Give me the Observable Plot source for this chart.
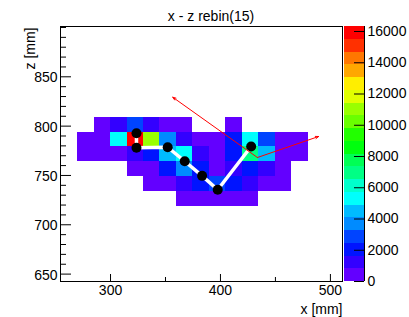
<!DOCTYPE html>
<html><head><meta charset="utf-8">
<script src="https://cdn.jsdelivr.net/npm/d3@7"></script>
<script src="https://cdn.jsdelivr.net/npm/@observablehq/plot@0.6"></script>
<style>
body{margin:0;background:#fff;}
#wrap{position:relative;width:409px;height:317px;font-family:"Liberation Sans",Arial,Helvetica,sans-serif;}
#wrap svg{position:absolute;left:0;top:0;}
#title{position:absolute;left:0;width:422px;top:9px;text-align:center;font-size:14px;line-height:14px;color:#000;}
</style></head><body>
<div id="wrap"><div id="title">x - z rebin(15)</div></div>
<script>
// ---- data ----
const titleText = "x - z rebin(15)";
const xLabel = "x [mm]";
const zLabel = "z [mm]";
const binWidth = 15;
const xLow = [270,285,300,315,330,345,360,375,390,405,420,435,450,465];
const zLow = [794,779,764,749,734,719];
const row794 = [null, 420, 1250, 2900, 1300, 380, 300, null, null, 350, null, null, null, null];
const row779 = [450, 600, 5300, 16300, 11000, 3700, 1250, 500, 450, 2000, 5400, 2700, 400, 300];
const row764 = [350, 500, 650, 1350, 2100, 4500, 5300, 1300, 600, 1900, 7000, 4400, 450, 300];
const row749 = [null, null, null, 500, 600, 2000, 3700, 1900, 700, 1400, 1700, 1200, 350, null];
const row734 = [null, null, null, null, 400, 550, 1300, 2200, 2900, 2100, 1300, 600, 300, null];
const row719 = [null, null, null, null, null, null, 450, 500, 600, 550, 400, null, null, null];
const rows = [row794, row779, row764, row749, row734, row719];

const trackX = [323.6, 323.6, 352.0, 367.5, 383.3, 397.5, 427.9];
const trackZ = [792.8, 778.0, 778.6, 764.4, 749.6, 735.5, 779.3];

const redX = [356.6, 433.6, 489.3];
const redZ = [829.3, 768.2, 789.5];

const xMajor = [300, 400, 500];
const xMinor = [350, 450];
const zMajor = [650, 700, 750, 800, 850];
const zMinor = [660,670,680,690,710,720,730,740,760,770,780,790,810,820,830,840,860,870,880,890,900];
const cbTicks = [0, 2000, 4000, 6000, 8000, 10000, 12000, 14000, 16000];
const zMax = 16320;
const nLevels = 20;

// ---- derived ----
const cells = [];
rows.forEach((r, i) => r.forEach((v, j) => {
  if (v != null) cells.push({x1: xLow[j], x2: xLow[j] + binWidth, y1: zLow[i], y2: zLow[i] + binWidth, v});
}));
const track = trackX.map((x, i) => ({x, z: trackZ[i]}));
const arrows = [
  {x1: redX[1], y1: redZ[1], x2: redX[0], y2: redZ[0]},
  {x1: redX[1], y1: redZ[1], x2: redX[2], y2: redZ[2]}
];
const dz = zMax / nLevels;
const thresholds = d3.range(1, nLevels).map(k => k * dz);
const palette = d3.range(nLevels).map(k => {
  const idx = Math.floor((k + 0.99) * 50 / nLevels);
  const hue = 280 - (idx + 1) * 280 / 50;
  return d3.hsl(hue, 1, 0.5).formatHex();
});
const levels = d3.range(nLevels).map(k => ({lo: k * dz, hi: (k + 1) * dz, v: (k + 0.5) * dz}));
const colorScale = {type: "threshold", domain: thresholds, range: palette};
const font = '"Liberation Sans", Arial, Helvetica, sans-serif';

const main = Plot.plot({
  width: 409, height: 317,
  marginLeft: 60, marginRight: 67, marginTop: 26, marginBottom: 36,
  x: {domain: [254.5, 511], axis: null},
  y: {domain: [642.5, 901], axis: null},
  color: colorScale,
  style: {fontFamily: font, fontSize: "14px", background: "transparent", color: "black"},
  marks: [
    Plot.rect(cells, {x1: "x1", x2: "x2", y1: "y1", y2: "y2", fill: "v", shapeRendering: "crispEdges"}),
    Plot.line(track, {x: "x", y: "z", stroke: "white", strokeWidth: 3.5}),
    Plot.dot(track, {x: "x", y: "z", r: 5, fill: "black", stroke: "none"}),
    Plot.arrow(arrows, {x1: "x1", y1: "y1", x2: "x2", y2: "y2", stroke: "red", strokeWidth: 1, headLength: 5, headAngle: 40}),
    Plot.frame({stroke: "black", strokeWidth: 1}),
    Plot.tickX(xMajor, {x: d => d, insetTop: 248, stroke: "black"}),
    Plot.tickX(xMinor, {x: d => d, insetTop: 251, stroke: "black"}),
    Plot.tickY(zMajor, {y: d => d, insetRight: 271, stroke: "black"}),
    Plot.tickY(zMinor, {y: d => d, insetRight: 276, stroke: "black"}),
    Plot.text(xMajor, {x: d => d, frameAnchor: "bottom", lineAnchor: "top", dy: 4, text: d => String(d), fontSize: 14}),
    Plot.text(zMajor, {y: d => d, frameAnchor: "left", textAnchor: "end", dx: -3, dy: 1, text: d => String(d), fontSize: 14}),
    Plot.text([xLabel], {frameAnchor: "bottom-right", textAnchor: "end", lineAnchor: "top", dy: 23, text: d => d, fontSize: 14}),
    Plot.text([zLabel], {frameAnchor: "top-left", textAnchor: "end", rotate: -90, dx: -35, dy: 1, text: d => d, fontSize: 14})
  ]
});

const cb = Plot.plot({
  width: 409, height: 317,
  marginLeft: 344, marginRight: 45, marginTop: 26, marginBottom: 36,
  x: {domain: [0, 1], axis: null},
  y: {domain: [0, zMax], axis: null},
  color: colorScale,
  style: {fontFamily: font, fontSize: "14px", background: "transparent", color: "black"},
  marks: [
    Plot.rect(levels, {x1: 0, x2: 1, y1: "lo", y2: "hi", fill: "v", shapeRendering: "crispEdges"}),
    Plot.ruleX([1], {stroke: "black"}),
    Plot.tickY(cbTicks, {y: d => d, insetLeft: 10, stroke: "black"}),
    Plot.text(cbTicks, {y: d => d, frameAnchor: "right", textAnchor: "start", dx: 3, text: d => String(d), fontSize: 14})
  ]
});

document.getElementById("title").textContent = titleText;
const wrap = document.getElementById("wrap");
wrap.appendChild(main);
wrap.appendChild(cb);
</script>
</body></html>
